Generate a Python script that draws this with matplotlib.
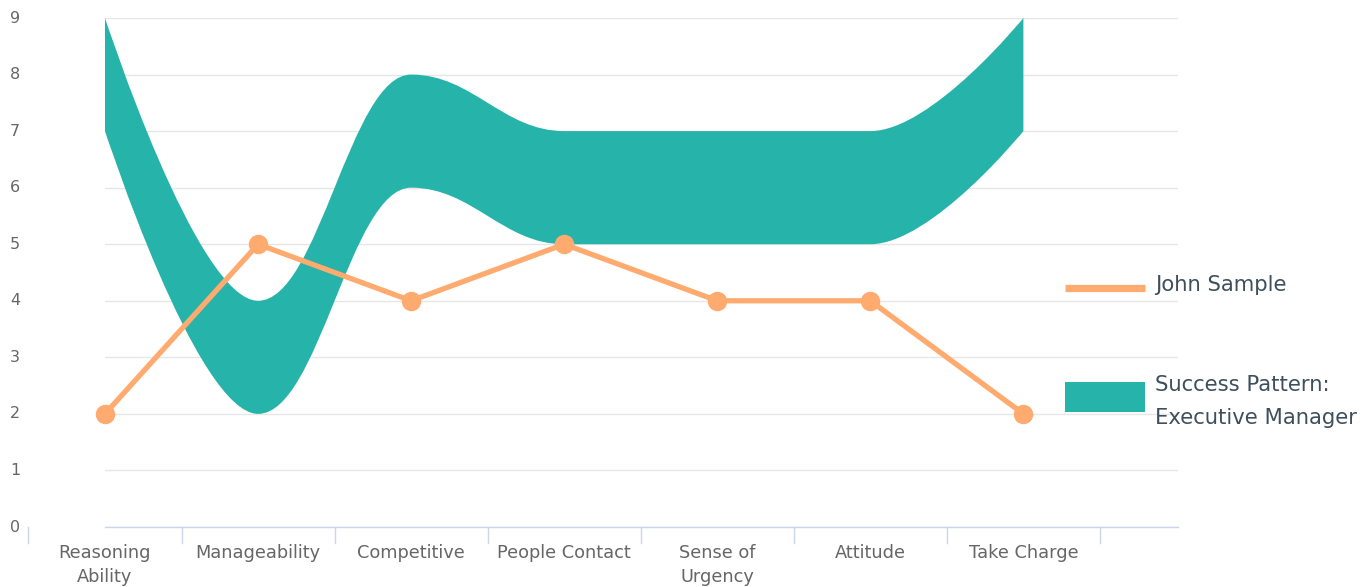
import matplotlib
matplotlib.use("Agg")
import matplotlib.pyplot as plt
from matplotlib.path import Path
from matplotlib.patches import PathPatch, Rectangle
from matplotlib.lines import Line2D
import matplotlib.transforms as mtransforms

plt.rcParams["font.family"] = ["DejaVu Sans"]

categories = ["Reasoning\nAbility", "Manageability", "Competitive", "People Contact",
              "Sense of\nUrgency", "Attitude", "Take Charge"]
range_low = [7, 2, 6, 5, 5, 5, 7]
range_high = [9, 4, 8, 7, 7, 7, 9]
john = [2, 5, 4, 5, 4, 4, 2]
yticks = [0, 1, 2, 3, 4, 5, 6, 7, 8, 9]

TEAL = "#26b3aa"
ORANGE = "#ffaa6e"
GRID = "#e6e6e6"
AXIS = "#ccd6eb"
LABEL = "#666666"
LEGEND_TXT = "#3e4f5c"

W, H = 1372, 587
fig = plt.figure(figsize=(W / 100, H / 100), dpi=100)
ax = fig.add_axes([105 / W, 1 - 527 / H, (1178 - 105) / W, (527 - 18) / H])


def spline_segments(xs, ys):
    """Highcharts-style spline: returns list of bezier segments (p0, c1, c2, p1)."""
    n = len(xs)
    sm = 1.5
    den = sm + 1
    right = [None] * n
    left = [None] * n
    for i in range(n):
        x, y = xs[i], ys[i]
        if 0 < i < n - 1:
            lx, ly = xs[i - 1], ys[i - 1]
            nx, ny = xs[i + 1], ys[i + 1]
            lcx = (sm * x + lx) / den
            lcy = (sm * y + ly) / den
            rcx = (sm * x + nx) / den
            rcy = (sm * y + ny) / den
            corr = 0
            if rcx != lcx:
                corr = (rcy - lcy) * (rcx - x) / (rcx - lcx) + y - rcy
            lcy += corr
            rcy += corr
            if lcy > ly and lcy > y:
                lcy = max(ly, y)
                rcy = 2 * y - lcy
            elif lcy < ly and lcy < y:
                lcy = min(ly, y)
                rcy = 2 * y - lcy
            if rcy > ny and rcy > y:
                rcy = max(ny, y)
                lcy = 2 * y - rcy
            elif rcy < ny and rcy < y:
                rcy = min(ny, y)
                lcy = 2 * y - rcy
            left[i] = (lcx, lcy)
            right[i] = (rcx, rcy)
        else:
            left[i] = (x, y)
            right[i] = (x, y)
    segs = []
    for i in range(1, n):
        segs.append(((xs[i - 1], ys[i - 1]), right[i - 1], left[i], (xs[i], ys[i])))
    return segs


xs = list(range(len(categories)))
top = spline_segments(xs, range_high)
bot = spline_segments(xs, range_low)

verts = [top[0][0]]
codes = [Path.MOVETO]
for p0, c1, c2, p1 in top:
    verts += [c1, c2, p1]
    codes += [Path.CURVE4] * 3
verts.append(bot[-1][3])
codes.append(Path.LINETO)
for p0, c1, c2, p1 in reversed(bot):
    verts += [c2, c1, p0]
    codes += [Path.CURVE4] * 3
verts.append(top[0][0])
codes.append(Path.CLOSEPOLY)
ax.add_patch(PathPatch(Path(verts, codes), facecolor=TEAL, edgecolor="none", zorder=2, clip_on=False))

ax.plot(xs, john, color=ORANGE, lw=3.8, marker="o", markersize=13, zorder=3, clip_on=False,
        solid_capstyle="round")

ax.set_xlim(0, 7.01)
ax.set_ylim(0, 9)
ax.set_yticks(yticks)
ax.set_yticklabels([])
ax.grid(axis="y", color=GRID, lw=1)
ax.set_axisbelow(True)
for s in ["top", "right", "left"]:
    ax.spines[s].set_visible(False)
ax.spines["bottom"].set_color(AXIS)
ax.spines["bottom"].set_linewidth(1)
ax.tick_params(axis="y", length=0)
ax.set_xticks([])

# y labels placed at fixed pixel x
ytrans = mtransforms.blended_transform_factory(fig.transFigure, ax.transData)
for v in yticks:
    fig.text(20 / W, v, str(v), transform=ytrans, ha="right", va="center",
             fontsize=11.5, color=LABEL)

# category boundary ticks (first one lies left of the plot area)
for k in range(len(categories) + 1):
    xb = k - 0.5
    ax.plot([xb, xb], [0, -16 / 56.56], color=AXIS, lw=1, clip_on=False, zorder=1)
for i, c in enumerate(categories):
    ax.text(i, -17 / 56.56, c, ha="center", va="top", fontsize=12.8, color=LABEL,
            linespacing=1.4)

# legend
fig.add_artist(Line2D([1065 / W, 1145 / W], [1 - 288 / H, 1 - 288 / H], color=ORANGE, lw=5.2,
                      solid_capstyle="butt"))
fig.text(1155 / W, 1 - 285 / H, "John Sample", fontsize=15.2, color=LEGEND_TXT, va="center", ha="left")
fig.add_artist(Rectangle((1065 / W, 1 - 412 / H), 80 / W, 30 / H, facecolor=TEAL, edgecolor="none",
                         transform=fig.transFigure))
fig.text(1155 / W, 1 - 385 / H, "Success Pattern:", fontsize=15.2, color=LEGEND_TXT, va="center", ha="left")
fig.text(1155 / W, 1 - 418 / H, "Executive Manager", fontsize=15.2, color=LEGEND_TXT, va="center", ha="left")

fig.savefig("out.png", dpi=100)
